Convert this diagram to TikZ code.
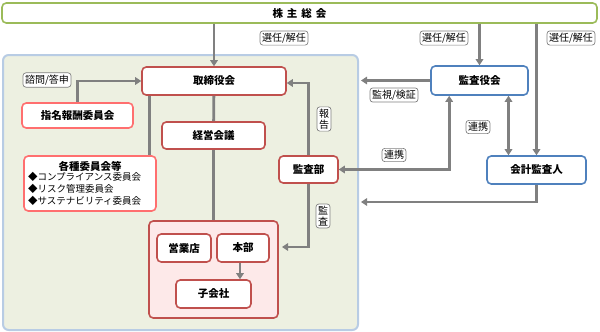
\documentclass[tikz,border=0pt]{standalone}
\usepackage{fontspec}
\setmainfont{Noto Sans CJK JP}
\usetikzlibrary{arrows.meta,positioning,calc}
\definecolor{meetgreen}{HTML}{9BBB59}
\definecolor{boardred}{HTML}{C0504D}
\definecolor{cmtpink}{HTML}{FF6F6F}
\definecolor{auditblue}{HTML}{4F81BD}
\definecolor{flowgray}{HTML}{808080}
\definecolor{areafill}{HTML}{EDF0E1}
\definecolor{areaedge}{HTML}{B8CCE4}
\definecolor{groupfill}{HTML}{FDE9E9}

\begin{document}
\begin{tikzpicture}[
  x=1pt,y=-1pt,
  every node/.style={font=\fontsize{10.5}{12}\selectfont\bfseries},
  base/.style={rounded corners=1.5mm,line width=1.6pt,fill=white,inner sep=2pt,align=center},
  redbox/.style={base,draw=boardred},
  pinkbox/.style={base,draw=cmtpink},
  bluebox/.style={base,draw=auditblue},
  tag/.style={rounded corners=1mm,draw=flowgray,fill=white,line width=0.7pt,inner sep=2pt,font=\fontsize{10}{11}\selectfont,align=center},
  arrow/.style={-{Triangle[length=6pt,width=7.5pt]},line width=2.8pt,draw=flowgray},
  link/.style={{Triangle[length=6pt,width=7.5pt]}-{Triangle[length=6pt,width=7.5pt]},line width=2.8pt,draw=flowgray},
  plain/.style={line width=2.8pt,draw=flowgray}
]
\useasboundingbox (0,0) rectangle (600,332);
% shareholders and company area
\node[base,draw=meetgreen,minimum width=595pt,minimum height=20pt] (meeting) at (299.5,13) {株\hspace{4pt}主\hspace{4pt}総\hspace{4pt}会};
\node[rounded corners=2mm,draw=areaedge,fill=areafill,line width=2pt,minimum width=355pt,minimum height=275pt] (company) at (180.5,192.5) {};

% board side
\node[redbox,minimum width=144pt,minimum height=28pt] (board) at (214,81) {取締役会};
\node[redbox,minimum width=103pt,minimum height=27pt] (mgmt) at (213.5,135.5) {経営会議};
\node[pinkbox,minimum width=111pt,minimum height=25pt] (nomination) at (77.5,115.5) {指名報酬委員会};
\node[pinkbox,text width=128pt,minimum height=55pt,align=left] (committees) at (90,183.5)
  {\hfill 各種委員会等\hfill\null\\[-1.5pt]
   {\fontsize{9.5}{12}\selectfont\mdseries\hspace*{2pt}◆コンプライアンス委員会\\ \hspace*{2pt}◆リスク管理委員会\\ \hspace*{2pt}◆サステナビリティ委員会}};
\node[redbox,fill=groupfill,minimum width=129pt,minimum height=97pt] (units) at (213.5,269.5) {};
\node[redbox,minimum width=54pt,minimum height=28pt] (branches) at (184,248) {営業店};
\node[redbox,minimum width=52pt,minimum height=28pt] (hq) at (243,248) {本部};
\node[redbox,minimum width=75pt,minimum height=28pt] (subsid) at (213.5,294) {子会社};
\node[redbox,minimum width=59pt,minimum height=27pt] (internal) at (308.5,169.5) {監査部};

% auditors
\node[bluebox,minimum width=97pt,minimum height=29pt] (auditboard) at (479.5,80.5) {監査役会};
\node[bluebox,minimum width=99pt,minimum height=28pt] (extaudit) at (536.5,170) {会計監査人};

% labels
\node[tag] (elect1) at (284,38) {選任/解任};
\node[tag] (elect2) at (444,38) {選任/解任};
\node[tag] (elect3) at (571,38) {選任/解任};
\node[tag] (consult) at (47,80) {諮問/答申};
\node[tag] (monitor) at (394,95) {監視/検証};
\node[tag] (coop1) at (394,155) {連携};
\node[tag] (coop2) at (478,127) {連携};
\node[tag,font=\fontsize{10}{11}\selectfont] (report) at (324,119) {報\\告};
\node[tag,font=\fontsize{10}{11}\selectfont] (audit) at (323,216) {監\\査};

\coordinate (unitsin) at (282,247);
\coordinate (extend) at (361,202);

\draw[arrow] (meeting.south -| board.north) -- (board.north);
\draw[arrow] (meeting.south -| auditboard.north) -- (auditboard.north);
\draw[arrow] (meeting.south -| extaudit.north) -- (extaudit.north);
\draw[arrow] (nomination.north) |- (board.west);
\draw[plain] (board) -- (mgmt);
\draw[plain] (mgmt) -- (units);
\draw[plain] ([xshift=8pt]board.south west) -- ([xshift=8pt]board.south west |- committees.north);
\draw[arrow] ([xshift=-3pt]hq.south) -- ([xshift=-3pt]hq.south |- subsid.north);
\draw[arrow] (internal.north) |- ([yshift=-2pt]board.east);
\draw[arrow] (internal.south) |- (unitsin);
\draw[arrow] (auditboard.west) -- ([xshift=2pt]auditboard.west -| company.east);
\draw[link] (internal.east) -| ([xshift=19pt]auditboard.south west);
\draw[link] ([xshift=29pt]auditboard.south) -- ([xshift=29pt]auditboard.south |- extaudit.north);
\draw[arrow] (extaudit.south) |- (extend);
\end{tikzpicture}
\end{document}
